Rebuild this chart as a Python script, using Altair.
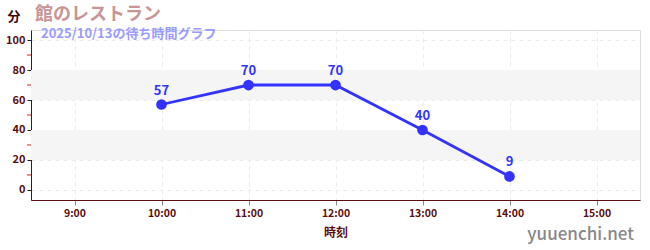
import altair as alt
import pandas as pd

hours = [10, 11, 12, 13, 14]
waits = [57, 70, 70, 40, 9]
tick_hours = [9, 10, 11, 12, 13, 14, 15]
band_lo = [20, 60]
band_hi = [40, 80]
minor_ticks = [10, 30, 50, 70, 90]

FONT = "Noto Sans CJK JP"
AXIS_COLOR = "#5a0f0f"
LINE_COLOR = "#3333ff"

W, H = 609, 170

df = pd.DataFrame({"hour": hours, "wait": waits})
bands = pd.DataFrame({"lo": band_lo, "hi": band_hi})
minors = pd.DataFrame({"v": minor_ticks})

xscale = alt.Scale(domain=[8.5, 15.5], nice=False, zero=False)
yscale = alt.Scale(domain=[-6.7, 106.7], nice=False, zero=False)

xaxis = alt.Axis(values=tick_hours, labelExpr="datum.value + ':00'", title="時刻",
                 grid=True, gridDash=[4, 4], gridColor="#ebebeb",
                 domainColor=AXIS_COLOR, tickColor="#888888", tickSize=5,
                 labelColor=AXIS_COLOR, labelFont=FONT, labelFontSize=10.5, labelFontWeight="bold",
                 labelOverlap=False,
                 titleColor=AXIS_COLOR, titleFont=FONT, titleFontSize=12, titleFontWeight="bold",
                 titlePadding=9, labelPadding=3)
yaxis = alt.Axis(values=[0, 20, 40, 60, 80, 100], title=None,
                 grid=True, gridDash=[4, 4], gridColor="#ebebeb",
                 domainColor=AXIS_COLOR, tickColor="#222222", tickSize=4,
                 labelColor=AXIS_COLOR, labelFont=FONT, labelFontSize=11, labelFontWeight="bold",
                 labelOverlap=False, labelPadding=2)

band_layer = alt.Chart(bands).mark_rect(color="#f5f5f5").encode(
    x=alt.value(0), x2=alt.value(W),
    y=alt.Y("lo:Q", scale=yscale, axis=yaxis),
    y2="hi:Q",
)

minor_layer = alt.Chart(minors).mark_rule(color="#dd2222", strokeWidth=1).encode(
    x=alt.value(-4), x2=alt.value(0),
    y=alt.Y("v:Q", scale=yscale, axis=yaxis),
)

base = alt.Chart(df).encode(
    x=alt.X("hour:Q", scale=xscale, axis=xaxis),
    y=alt.Y("wait:Q", scale=yscale, axis=yaxis),
)
line = base.mark_line(color=LINE_COLOR, strokeWidth=2.8)
points = base.mark_point(filled=True, size=115, color=LINE_COLOR, opacity=1)
labels = base.mark_text(dy=-14, color=LINE_COLOR, font=FONT, fontSize=13, fontWeight="bold").encode(
    text="wait:Q")

ann = pd.DataFrame({"a": [0]})
title_t = alt.Chart(ann).mark_text(text="館のレストラン", align="left", baseline="alphabetic",
                                   font=FONT, fontSize=18, fontWeight="bold", color="#c89696").encode(
    x=alt.value(4), y=alt.value(-10))
sub_t = alt.Chart(ann).mark_text(text="2025/10/13の待ち時間グラフ", align="left", baseline="alphabetic",
                                 font=FONT, fontSize=13, fontWeight="bold", color="#9b9bff").encode(
    x=alt.value(10), y=alt.value(8))
unit_t = alt.Chart(ann).mark_text(text="分", align="center", baseline="alphabetic",
                                  font=FONT, fontSize=13, fontWeight="bold", color="#3a0a0a").encode(
    x=alt.value(-17), y=alt.value(-9))
wm_t = alt.Chart(ann).mark_text(text="yuuenchi.net", align="right", baseline="alphabetic",
                                font=FONT, fontSize=17, fontWeight=500, color="#888888").encode(
    x=alt.value(603), y=alt.value(40 + H))

chart = alt.layer(band_layer, minor_layer, line, points, labels, title_t, sub_t, unit_t, wm_t).properties(
    width=W, height=H,
    autosize=alt.AutoSizeParams(type="none"),
    padding={"left": 31, "top": 30, "right": 10, "bottom": 50},
).configure_view(stroke=None).configure(background="white")

chart.save("out.html", embed_options={"renderer": "svg", "actions": False})
